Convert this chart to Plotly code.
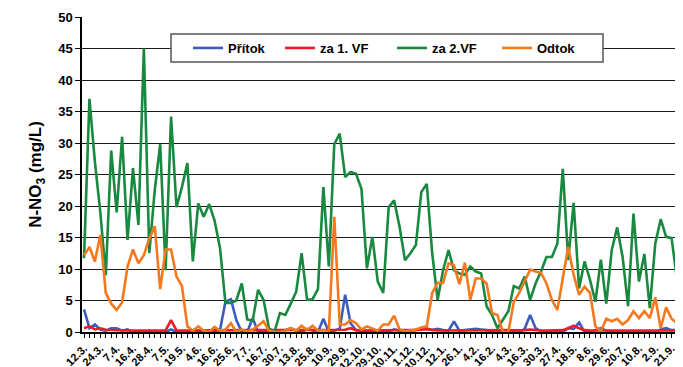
import plotly.graph_objects as go

# ---- data ----
tick_labels = ["12.3.", "24.3.", "7.4.", "16.4.", "28.4.", "7.5.", "19.5.", "4.6.", "16.6.", "25.6.",
               "7.7.", "16.7.", "30.7.", "13.8.", "25.8.", "10.9.", "29.9.", "12.10.", "29.10.", "10.11.",
               "1.12.", "10.12.", "12.1.", "26.1.", "4.2.", "16.2.", "4.3.", "16.3.", "30.3.", "27.4.",
               "18.5.", "8.6.", "29.6.", "20.7.", "10.8.", "2.9.", "21.9.", "12.10."]

pritok = [3.6, 0.6, 1.2, 0.4, 0.2, 0.6, 0.6, 0.2, 0.4, 0, 0, 0, 0.2, 0, 0, 0, 0.4, 0, 0, 0,
          0, 0, 0, 0, 0, 0.3, 4.8, 5.2, 1.9, 0, 0, 2.2, 0, 0, 0, 0, 0, 0.3, 0.6, 0.2,
          0, 0.5, 0.2, 0, 2.1, 0, 0.2, 0.5, 5.9, 1.4, 0.3, 0.2, 0, 0, 0.2, 0, 0, 0.4, 0.2, 0,
          0.2, 0.3, 0.6, 0.6, 0.3, 0.5, 0.3, 0.2, 1.7, 0.2, 0.3, 0.4, 0.5, 0.4, 0.3, 0, 0, 0, 0, 0,
          0, 0.5, 2.7, 0.6, 0.1, 0, 0, 0, 0, 0.6, 0.5, 1.5, 0, 0, 0.3, 0.6, 0.2, 0, 0, 0,
          0, 0, 0, 0, 0.2, 0, 0.4, 0.6, 0.3, 0.3, 9.6, 12.0]

za1vf = [0.6, 0.9, 0.4, 0.6, 0.35, 0.3, 0.25, 0.25, 0.25, 0.25, 0.25, 0.25, 0.25, 0.25, 0.25, 0.25, 1.9, 0.25, 0.25, 0.25,
         0.25, 0.25, 0.25, 0.25, 0.25, 0.25, 0.25, 0.25, 0.25, 0.25, 0.25, 0.25, 0.25, 0.25, 0.25, 0.25, 0.25, 0.25, 0.25, 0.25,
         0.25, 0.25, 0.25, 0.25, 0.25, 0.25, 0.25, 0.25, 0.35, 0.6, 0.3, 0.25, 0.25, 0.25, 0.25, 0.25, 0.25, 0.25, 0.25, 0.25,
         0.25, 0.25, 0.35, 0.45, 0.3, 0.25, 0.25, 0.25, 0.25, 0.25, 0.25, 0.25, 0.25, 0.25, 0.25, 0.25, 0.25, 0.25, 0.25, 0.25,
         0.25, 0.3, 0.4, 0.3, 0.25, 0.25, 0.25, 0.25, 0.3, 0.6, 1.0, 0.6, 0.3, 0.25, 0.25, 0.25, 0.25, 0.25, 0.25, 0.25,
         0.25, 0.25, 0.25, 0.25, 0.25, 0.25, 0.25, 0.25, 0.25, 0.25, 0.25, 0.25]

za2vf = [11.7, 37, 27, 19, 9, 28.8, 19, 31, 14.6, 26, 17, 45, 12.5, 22.5, 29.8, 9.8, 34.2, 19.8, 23, 26.8,
         11.2, 20.4, 18.3, 20.3, 17.7, 13.3, 4.6, 4.6, 5.0, 7.7, 2.0, 1.8, 6.7, 5.1, 0.6, 0, 3.0, 2.7, 4.5, 6.4,
         12.5, 5.1, 5.2, 6.8, 23, 10.4, 29.8, 31.5, 24.6, 25.4, 25.1, 22.7, 10.1, 15.1, 8, 6.2, 19.8, 20.9, 16.7, 11.4,
         12.5, 13.8, 22.2, 23.5, 12.5, 5.1, 9.8, 13, 9.8, 9.3, 9.1, 10.4, 9.6, 9.3, 4.1, 2.7, 0.6, 1.9, 3.3, 7.3,
         6.9, 8.8, 5.1, 7.7, 9.6, 11.9, 11.9, 14, 25.9, 11.4, 20.5, 6.9, 11.2, 8.3, 4.8, 11.5, 4.5, 13, 16.6, 11.9,
         4.1, 18.8, 8, 12.4, 3.8, 14, 17.9, 15.1, 14.9, 8.3, 8.2, 8.3]

odtok = [12.2, 13.5, 11.2, 15.4, 6.2, 4.5, 3.5, 4.7, 10.4, 13.1, 10.9, 12.2, 14.8, 16.8, 6.8, 13.1, 13.1, 8.8, 7.3, 0.9,
         0.2, 0.9, 0.2, 0, 0.8, 0.2, 0.4, 1.4, 0, 0.4, 0.1, 0.4, 1.0, 1.7, 0.2, 0, 0, 0.2, 0.6, 0.2,
         1.0, 0.3, 1.0, 0.2, 0.3, 0.1, 18.3, 1.2, 1.2, 1.9, 1.4, 0.4, 0.9, 0.6, 0.2, 1.2, 1.2, 2.6, 0.4, 0.1,
         0.2, 0.4, 0.7, 0.9, 6.2, 7.8, 7.8, 10.9, 10.6, 7.6, 11, 5.1, 8.5, 8.5, 7.7, 3.0, 2.7, 0, 0, 4.8,
         6.2, 8, 9.9, 9.6, 9.4, 7.7, 5.1, 3.5, 8.5, 13.5, 9.1, 5.9, 7.2, 6.2, 0.9, 0.1, 2.1, 1.7, 2.1, 1.2,
         1.9, 3.3, 2.2, 3.3, 2.2, 5.5, 0.6, 3.9, 2.1, 1.4, 0.1, 0]

series_names = ["Přítok", "za 1. VF", "za 2.VF", "Odtok"]
series_colors = ["#3a5dbf", "#ee1c25", "#18893f", "#f5781f"]

n = len(za2vf)
x_idx = list(range(n))
label_step = 3
tick_vals = list(range(0, n, label_step))[:len(tick_labels)]

FONT = "Liberation Sans, Arial, sans-serif"

# page body has an 8px margin: figure drawn at (8,8) in the window
W, H = 675, 359
ML, MT, PW, PH = 74, 9, 601, 315
MR, MB = W - ML - PW, H - MT - PH

fig = go.Figure()
legend_ids = ["legend", "legend2", "legend3", "legend4"]
for name, vals, col, lg in zip(series_names, [pritok, za1vf, za2vf, odtok], series_colors, legend_ids):
    fig.add_trace(go.Scatter(x=x_idx, y=vals, mode="lines", name=name, legend=lg,
                             line=dict(color=col, width=2.6)))

# helpers: window pixel -> paper coords
def px_x(px):
    return (px - 8 - ML) / PW

def px_y(py):
    return (MT + PH - (py - 8)) / PH

legend_x_px = [188, 280, 392, 497]
leg_common = dict(orientation="h", xanchor="left", yanchor="middle", y=px_y(48),
                  bgcolor="rgba(0,0,0,0)", borderwidth=0,
                  font=dict(family=FONT, size=13, color="black", weight="bold"))
layout_legends = {}
for lg, xp in zip(legend_ids, legend_x_px):
    layout_legends[lg] = dict(x=px_x(xp), **leg_common)

fig.update_layout(
    width=W, height=H,
    margin=dict(l=ML, r=MR, t=MT, b=MB),
    paper_bgcolor="white", plot_bgcolor="white",
    font=dict(family=FONT, color="black"),
    showlegend=True,
    **layout_legends,
    shapes=[dict(type="rect", xref="paper", yref="paper",
                 x0=px_x(171), x1=px_x(603), y0=px_y(62), y1=px_y(34),
                 line=dict(color="#555555", width=1.5), fillcolor="white", layer="above")],
)

fig.update_xaxes(
    range=[-0.37, 110.1], tickmode="array", tickvals=tick_vals, ticktext=tick_labels,
    tickangle=-45, tickfont=dict(family=FONT, size=11, color="black", weight="bold"),
    ticks="outside", ticklen=4, tickcolor="black", showgrid=False, zeroline=False,
    showline=True, linecolor="black", linewidth=1.5, automargin=False,
    minor=dict(ticks="outside", dtick=1, tick0=0, ticklen=4, tickcolor="black", showgrid=False),
)
fig.update_yaxes(
    range=[0, 50], dtick=5, tick0=0,
    tickfont=dict(family=FONT, size=13, color="black", weight="bold"),
    ticks="outside", ticklen=5, tickcolor="black",
    showgrid=True, gridcolor="#1a1a1a", gridwidth=1.2, zeroline=False,
    showline=True, linecolor="black", linewidth=1.5, automargin=False,
    title=dict(text="N-NO<sub>3</sub> (mg/L)", standoff=12,
               font=dict(family=FONT, size=17, color="black", weight="bold")),
)

fig.write_html("out.html")
